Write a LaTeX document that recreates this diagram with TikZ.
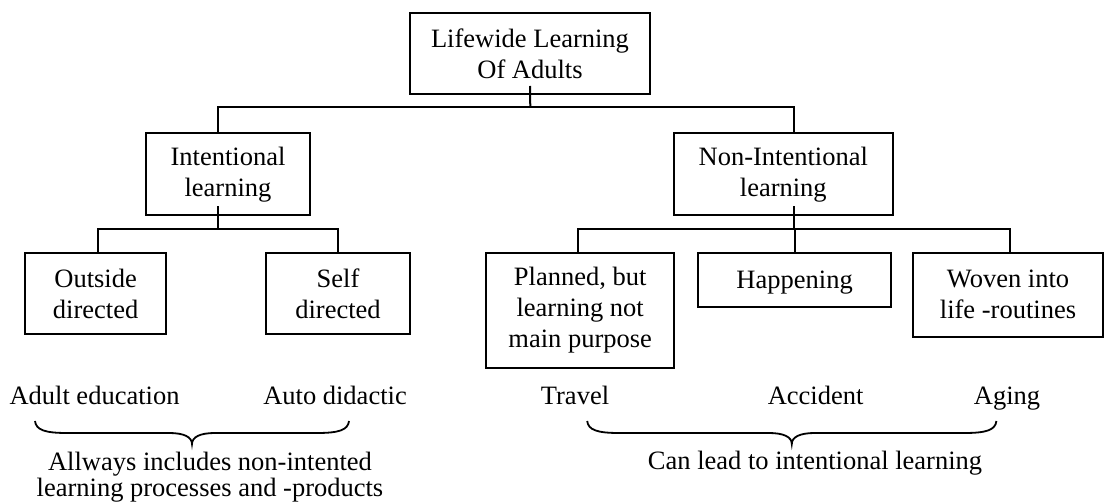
\documentclass[tikz,border=0pt]{standalone}
\usepackage{fontspec}
\setmainfont{Liberation Serif}
\begin{document}
\begin{tikzpicture}[x=1pt, y=-1pt,
  every node/.style={font=\fontsize{26.5}{31}\selectfont},
  nodebox/.style={draw, line width=2pt, align=center, inner sep=0pt},
  link/.style={line width=2pt},
  caption/.style={anchor=base, inner sep=0pt},
  pics/curlybrace/.style={code={
    \draw[line width=1.8pt]
      (-#1,-23) .. controls (-#1+1,-14) and (-#1+10,-11) .. (-#1+32,-11)
      -- (-23,-11) .. controls (-8,-11) and (0,-7) .. (0,0)
      .. controls (0,-7) and (8,-11) .. (23,-11)
      -- (#1-32,-11) .. controls (#1-10,-11) and (#1-1,-14) .. (#1,-23);
  }}
]
\useasboundingbox (0,0) rectangle (1104,502);

% boxes of the hierarchy
\node[nodebox, minimum width=240pt, minimum height=81.5pt] (top) at (530,53.75) {Lifewide Learning\\Of Adults};
\node[nodebox, minimum width=164pt, minimum height=81.7pt] (int) at (228,174.2) {Intentional\\learning};
\node[nodebox, minimum width=219pt, minimum height=81.7pt] (nonint) at (783.3,174.2) {Non-Intentional\\learning};
\node[nodebox, minimum width=140.4pt, minimum height=81.6pt] (outside) at (95.6,293.5) {Outside\\directed};
\node[nodebox, minimum width=144.4pt, minimum height=81.6pt] (self) at (338,293.5) {Self\\directed};
\node[nodebox, minimum width=188.3pt, minimum height=115.8pt] (planned) at (580.2,310.6) {Planned, but\\learning not\\main purpose};
\node[nodebox, minimum width=193.2pt, minimum height=53.6pt, text depth=0pt] (happen) at (794.6,280) {Happening};
\node[nodebox, minimum width=189.4pt, minimum height=84pt] (woven) at (1008,294.7) {Woven into\\life -routines};

% junctions of the tree lines
\coordinate (j0) at (530.3,107.5);
\coordinate (j1) at (218.3,229);
\coordinate (j2) at (794.3,229);

\draw[link] ([yshift=9.5pt]top.south) -- (j0);
\draw[link] ([xshift=-9.7pt]int.north) |- (j0) -| ([xshift=11pt]nonint.north);

\draw[link] ([xshift=-9.7pt,yshift=10pt]int.south) -- (j1);
\draw[link] ([xshift=2.3pt]outside.north) |- (j1) -| (self.north);

\draw[link] ([xshift=11pt,yshift=10pt]nonint.south) -- (j2);
\draw[link] ([xshift=-2.5pt]planned.north) |- (j2) -| ([xshift=2pt]woven.north);
\draw[link] (happen.north) |- (j2);

% examples and summaries
\node[caption] (adulted) at (94.5,404.5) {Adult education};
\node[caption] (autodid) at (335,404.5) {Auto didactic};
\node[caption] (travel) at (575,404.5) {Travel};
\node[caption] (accident) at (815.6,404.5) {Accident};
\node[caption] (aging) at (1007,404.5) {Aging};

\pic at (192,444) {curlybrace=157};
\pic at (791.8,444) {curlybrace=204.6};

\node[anchor=north, align=center, inner sep=0pt, font=\fontsize{26.5}{26}\selectfont] (always) at (210,452) {Allways includes non-intented\\learning processes and -products};
\node[caption] (canlead) at (815,469.5) {Can lead to intentional learning};
\end{tikzpicture}
\end{document}
